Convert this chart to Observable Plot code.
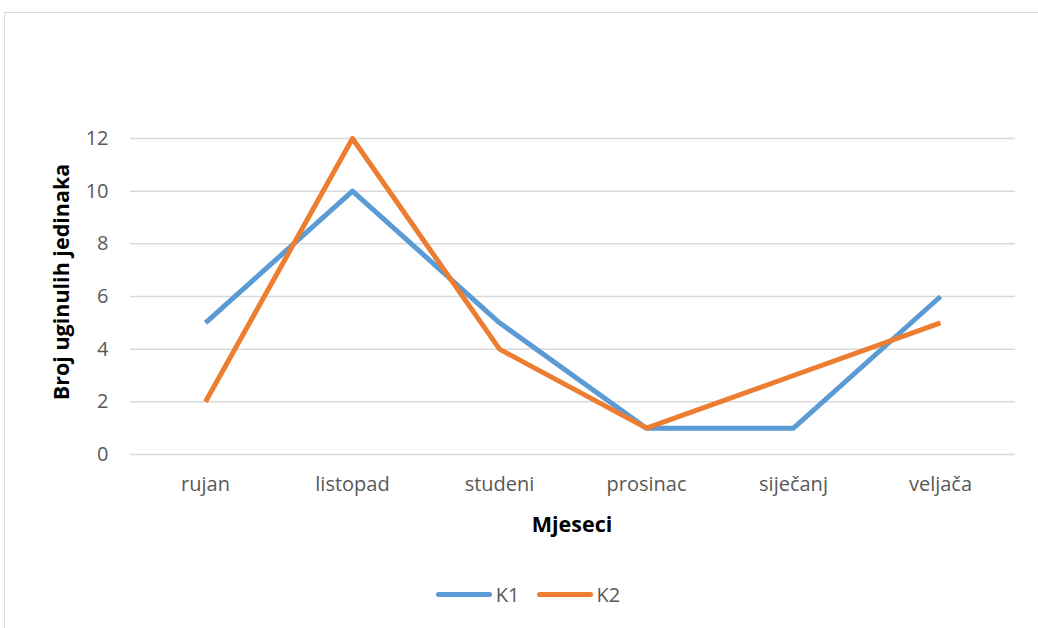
<!DOCTYPE html>
<html><head><meta charset="utf-8">
<script src="https://cdn.jsdelivr.net/npm/d3@7"></script>
<script src="https://cdn.jsdelivr.net/npm/@observablehq/plot@0.6"></script>
<style>
html,body{margin:0;padding:0;background:#fff;overflow:hidden;width:1038px;height:628px;}
#wrap{position:relative;width:1038px;height:628px;font-family:"Open Sans",sans-serif;}
#border{position:absolute;left:4px;top:12px;width:1200px;height:800px;border:1.5px solid #d9d9d9;box-sizing:border-box;}
#chart{position:absolute;left:0;top:0;}
.ttl{position:absolute;font-weight:bold;color:#000;font-size:21.5px;white-space:nowrap;}
#legend{position:absolute;left:9px;top:581px;width:1038px;display:flex;justify-content:center;gap:17px;font-size:20px;color:#595959;}
.li{display:flex;align-items:center;gap:4px;}
.sw{width:56px;height:5px;border-radius:3px;}
</style></head>
<body><div id="wrap"><div id="border"></div><div id="chart"></div>
<div class="ttl" id="ytitle">Broj uginulih jedinaka</div>
<div class="ttl" id="xtitle">Mjeseci</div>
<div id="legend"></div></div>
<script>
const months = ["rujan","listopad","studeni","prosinac","siječanj","veljača"];
const k1 = [5,10,5,1,1,6];
const k2 = [2,12,4,1,3,5];
const seriesNames = ["K1","K2"];
const colors = ["#5b9bd5","#ed7d31"];
const yTicks = [0,2,4,6,8,10,12];

const data = [];
months.forEach((m,i)=>{ data.push({month:m, value:k1[i], series:"K1"}); });
months.forEach((m,i)=>{ data.push({month:m, value:k2[i], series:"K2"}); });

const plot = Plot.plot({
  width:1038, height:628,
  marginLeft:130, marginRight:23, marginTop:138, marginBottom:174,
  style:{fontFamily:"'Open Sans',sans-serif", fontSize:"20px", color:"#595959", background:"transparent"},
  x:{type:"point", domain:months, padding:0.5, label:null},
  y:{domain:[0,12], label:null},
  color:{domain:seriesNames, range:colors},
  marks:[
    Plot.gridY(yTicks,{stroke:"#d9d9d9", strokeOpacity:1, strokeWidth:1.5}),
    Plot.axisY({ticks:yTicks, tickSize:0, tickPadding:22, label:null, fontSize:20, fill:"#595959"}),
    Plot.axisX({tickSize:0, tickPadding:22, label:null, fontSize:20, fill:"#595959"}),
    Plot.line(data,{x:"month", y:"value", z:"series", stroke:"series", strokeWidth:5, strokeLinejoin:"round", strokeLinecap:"butt"})
  ]
});
document.getElementById("chart").appendChild(plot);

const yt = document.getElementById("ytitle");
yt.style.left = "60px"; yt.style.top = "282px";
yt.style.transform = "translate(-50%,-50%) rotate(-90deg)";
const xt = document.getElementById("xtitle");
xt.style.left = "572px"; xt.style.top = "523px"; xt.style.transform = "translate(-50%,-50%)";

const lg = document.getElementById("legend");
seriesNames.forEach((s,i)=>{
  const d = document.createElement("div"); d.className="li";
  const sw = document.createElement("div"); sw.className="sw"; sw.style.background=colors[i];
  const t = document.createElement("span"); t.textContent=s;
  d.appendChild(sw); d.appendChild(t); lg.appendChild(d);
});
</script></body></html>
